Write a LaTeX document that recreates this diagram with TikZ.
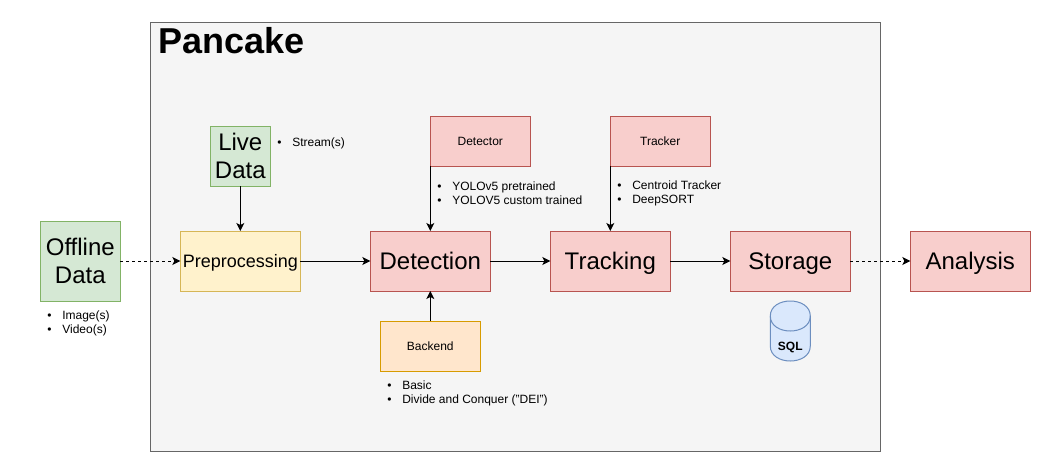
\documentclass[tikz,border=0pt]{standalone}
\usepackage{fontspec}
\setmainfont{Liberation Sans}
\usetikzlibrary{positioning,arrows.meta}

\definecolor{panelfill}{HTML}{F5F5F5}
\definecolor{paneldraw}{HTML}{666666}
\definecolor{greenfill}{HTML}{D5E8D4}
\definecolor{greendraw}{HTML}{82B366}
\definecolor{yellowfill}{HTML}{FFF2CC}
\definecolor{yellowdraw}{HTML}{D6B656}
\definecolor{redfill}{HTML}{F8CECC}
\definecolor{reddraw}{HTML}{B85450}
\definecolor{orangefill}{HTML}{FFE6CC}
\definecolor{orangedraw}{HTML}{D79B00}
\definecolor{bluefill}{HTML}{DAE8FC}
\definecolor{bluedraw}{HTML}{6C8EBF}

\newcommand{\bul}{\makebox[11.25pt][l]{\textbullet}}

\tikzset{
  box/.style = {shape = rectangle, draw, line width = .75pt, inner sep = 0pt, outer sep = 0pt, align = center},
  bigbox/.style = {box, minimum width = 90pt, minimum height = 45pt, text depth = 0pt, font = \fontsize{18}{22.5}\selectfont},
  smallbox/.style = {box, minimum width = 75pt, minimum height = 37.5pt, font = \fontsize{9}{10.5}\selectfont},
  greenbox/.style = {box, fill = greenfill, draw = greendraw, font = \fontsize{18}{21}\selectfont},
  redbox/.style = {fill = redfill, draw = reddraw},
  note/.style = {inner sep = 0pt, outer sep = 0pt, anchor = west, align = left, font = \fontsize{9}{10.5}\selectfont},
  link/.style = {-{Stealth[length = 6pt, width = 6pt, inset = 1.5pt]}, line width = .75pt},
  dashlink/.style = {link, dash pattern = on 2.25pt off 2.25pt}
}

\begin{document}
\begin{tikzpicture}[x = .75pt, y = -.75pt]
\useasboundingbox (.7,0) rectangle (1051.7,472);
\node[box, fill = panelfill, draw = paneldraw, minimum width = 547.5pt, minimum height = 321.75pt, anchor = north west] (panel) at (151,22) {};
\node[anchor = west, inner sep = 0pt, font = \fontsize{27}{27}\selectfont\bfseries] (title) at (159,41) {Pancake};

% main row
\node[bigbox, fill = yellowfill, draw = yellowdraw, font = \fontsize{13.5}{16}\selectfont] (pre) at (241,261) {Preprocessing};
\node[bigbox, redbox, right = 52.5pt of pre] (det) {Detection};
\node[bigbox, redbox, right = 45pt of det] (trk) {Tracking};
\node[bigbox, redbox, right = 45pt of trk] (sto) {Storage};
\node[bigbox, redbox, right = 45pt of sto] (ana) {Analysis};

% inputs
\node[greenbox, minimum width = 60pt, minimum height = 60pt, left = 45pt of pre] (off) {Offline\\Data};
\node[greenbox, minimum width = 45pt, minimum height = 45pt, above = 33.75pt of pre] (live) {Live\\Data};
\node[smallbox, redbox, above = 48.75pt of det, xshift = 37.5pt] (dtr) {Detector};
\node[smallbox, redbox, above = 48.75pt of trk, xshift = 37.5pt] (tkr) {Tracker};
\node[smallbox, fill = orangefill, draw = orangedraw, below = 22.5pt of det] (bck) {Backend};

% database
\node[minimum width = 30pt, minimum height = 45pt, inner sep = 0pt, outer sep = 0pt, below = 7.5pt of sto] (sql) {};
\begin{scope}[shift = {(sql.north west)}, draw = bluedraw, fill = bluefill, line width = .75pt]
\filldraw (0,15) .. controls (0,-5) and (40,-5) .. (40,15) -- (40,45) .. controls (40,65) and (0,65) .. (0,45) -- cycle;
\draw (0,15) .. controls (0,35) and (40,35) .. (40,15);
\end{scope}
\node[font = \fontsize{9}{10}\selectfont\bfseries, inner sep = 0pt] (sqltxt) at (791,347) {SQL};

% lists
\node[note] (livenote) at (278,143) {\bul Stream(s)};
\node[note] (offnote) at (48,323) {\bul Image(s)\\\bul Video(s)};
\node[note] (dtrnote) at (438,193) {\bul YOLOv5 pretrained\\\bul YOLOV5 custom trained};
\node[note] (tkrnote) at (618,193) {\bul Centroid Tracker\\\bul DeepSORT};
\node[note] (bcknote) at (388,393) {\bul Basic\\\bul Divide and Conquer ("DEI")};

% connectors
\draw[dashlink] (off) -- (pre);
\draw[link] (live) -- (pre);
\draw[link] (pre) -- (det);
\draw[link] (det) -- (trk);
\draw[link] (trk) -- (sto);
\draw[dashlink] (sto) -- (ana);
\draw[link] (dtr.south west) -- (dtr.south west |- det.north);
\draw[link] (tkr.south west) -- (tkr.south west |- trk.north);
\draw[link] (bck) -- (det);
\end{tikzpicture}
\end{document}
